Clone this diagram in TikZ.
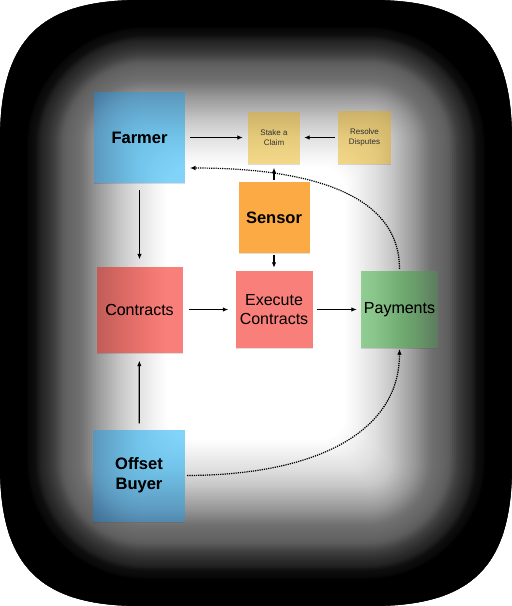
\documentclass[tikz,border=0pt]{standalone}
\usepackage{fontspec}
\setmainfont{Liberation Sans}
\usetikzlibrary{arrows.meta,shadows,calc}

\definecolor{noteblue}{HTML}{81D3F9}
\definecolor{notered}{HTML}{F87F7A}
\definecolor{notegreen}{HTML}{9AD59B}
\definecolor{noteorange}{HTML}{FCAA43}
\definecolor{noteyellow}{HTML}{F5DA8C}

\newcommand\iconoutline{(0,140) .. controls (0,40) and (40,0) .. (140,0) -- (372,0)
  .. controls (472,0) and (512,40) .. (512,140) -- (512,466)
  .. controls (512,566) and (472,606) .. (372,606) -- (140,606)
  .. controls (40,606) and (0,566) .. (0,466) -- cycle}

% one layer of the dark rim, #1 = share of the darkening
\newcommand\rimlayer[1]{%
  \foreach \inset in {10,12,...,166}{
    \pgfmathsetmacro\rimratio{(1-0.93*(1-(\inset-10)/160)^1.25)/(1-0.93*(1-(\inset-8)/160)^1.25)}
    \pgfmathsetmacro\rimalpha{1-\rimratio^#1}
    \pgfmathsetmacro\rimround{max(145-\inset,25)}
    \fill[black, fill opacity=\rimalpha, even odd rule] \iconoutline
      [rounded corners=\rimround pt] (\inset,\inset) rectangle (512-\inset,606-\inset);
  }}

\tikzset{
  note/.style={minimum size=#1, inner sep=0pt, align=center, text=black,
    drop shadow={shadow xshift=0pt, shadow yshift=-1.2pt, opacity=.25}},
  bigtext/.style={font=\fontsize{16.5}{20}\selectfont\bfseries},
  midtext/.style={font=\fontsize{16}{19.5}\selectfont},
  smalltext/.style={font=\fontsize{8}{9.7}\selectfont, text=black!75}
}

\begin{document}
\begin{tikzpicture}[x=1pt,y=-1pt,
    >={Latex[length=5.5pt,width=4.5pt]},
    flow/.style={->, line width=1.2pt, shorten <=5pt, shorten >=5pt},
    dots/.style={flow, densely dotted}]
  \useasboundingbox (0,0) rectangle (512,606);
  \fill[white] \iconoutline;
  \rimlayer{0.45}

  % notes
  \node[note=91pt, fill=noteblue, bigtext] (farmer) at (139.5,137.5) {Farmer};
  \node[note=52pt, fill=noteyellow, smalltext] (stake) at (274,137.5) {Stake a\\Claim};
  \node[note=53pt, fill=noteyellow, smalltext] (resolve) at (364.5,137.5) {Resolve\\Disputes};
  \node[note=71pt, fill=noteorange, bigtext] (sensor) at (274,217.5) {Sensor};
  \node[note=86pt, fill=notered, midtext] (contracts) at (139.5,309.5) {Contracts};
  \node[note=77pt, fill=notered, midtext] (execute) at (274,309.5) {Execute\\Contracts};
  \node[note=77pt, fill=notegreen, midtext] (payments) at (399.5,309.5) {Payments};
  \node[note=92pt, fill=noteblue, bigtext] (offset) at (139,475.5) {Offset\\Buyer};
  \coordinate (farmer in) at (190,168);

  % arrows
  \draw[flow] (farmer) -- (stake);
  \draw[flow, shorten <=3pt, shorten >=4pt] (resolve) -- (stake);
  \draw[flow, shorten <=2pt, shorten >=4pt] (sensor) -- (stake);
  \draw[flow, shorten <=1.5pt, shorten >=3pt] (sensor) -- (execute);
  \draw[flow, shorten <=7pt, shorten >=7pt] (farmer) -- (contracts);
  \draw[flow, shorten <=6pt, shorten >=7pt] (contracts) -- (execute);
  \draw[flow, shorten <=4pt, shorten >=4pt] (execute) -- (payments);
  \draw[flow, shorten <=6pt, shorten >=8pt] (offset) -- (contracts);
  \draw[dots, shorten <=2pt, shorten >=0pt] (payments.north)
    .. controls (399.5,190) and (300,168) .. (farmer in);
  \draw[dots, shorten <=2pt, shorten >=1pt] (offset.east)
    .. controls (320,475) and (399.5,430) .. (payments.south);

  % frame, dark at the rim
  \rimlayer{0.55}
\end{tikzpicture}
\end{document}
